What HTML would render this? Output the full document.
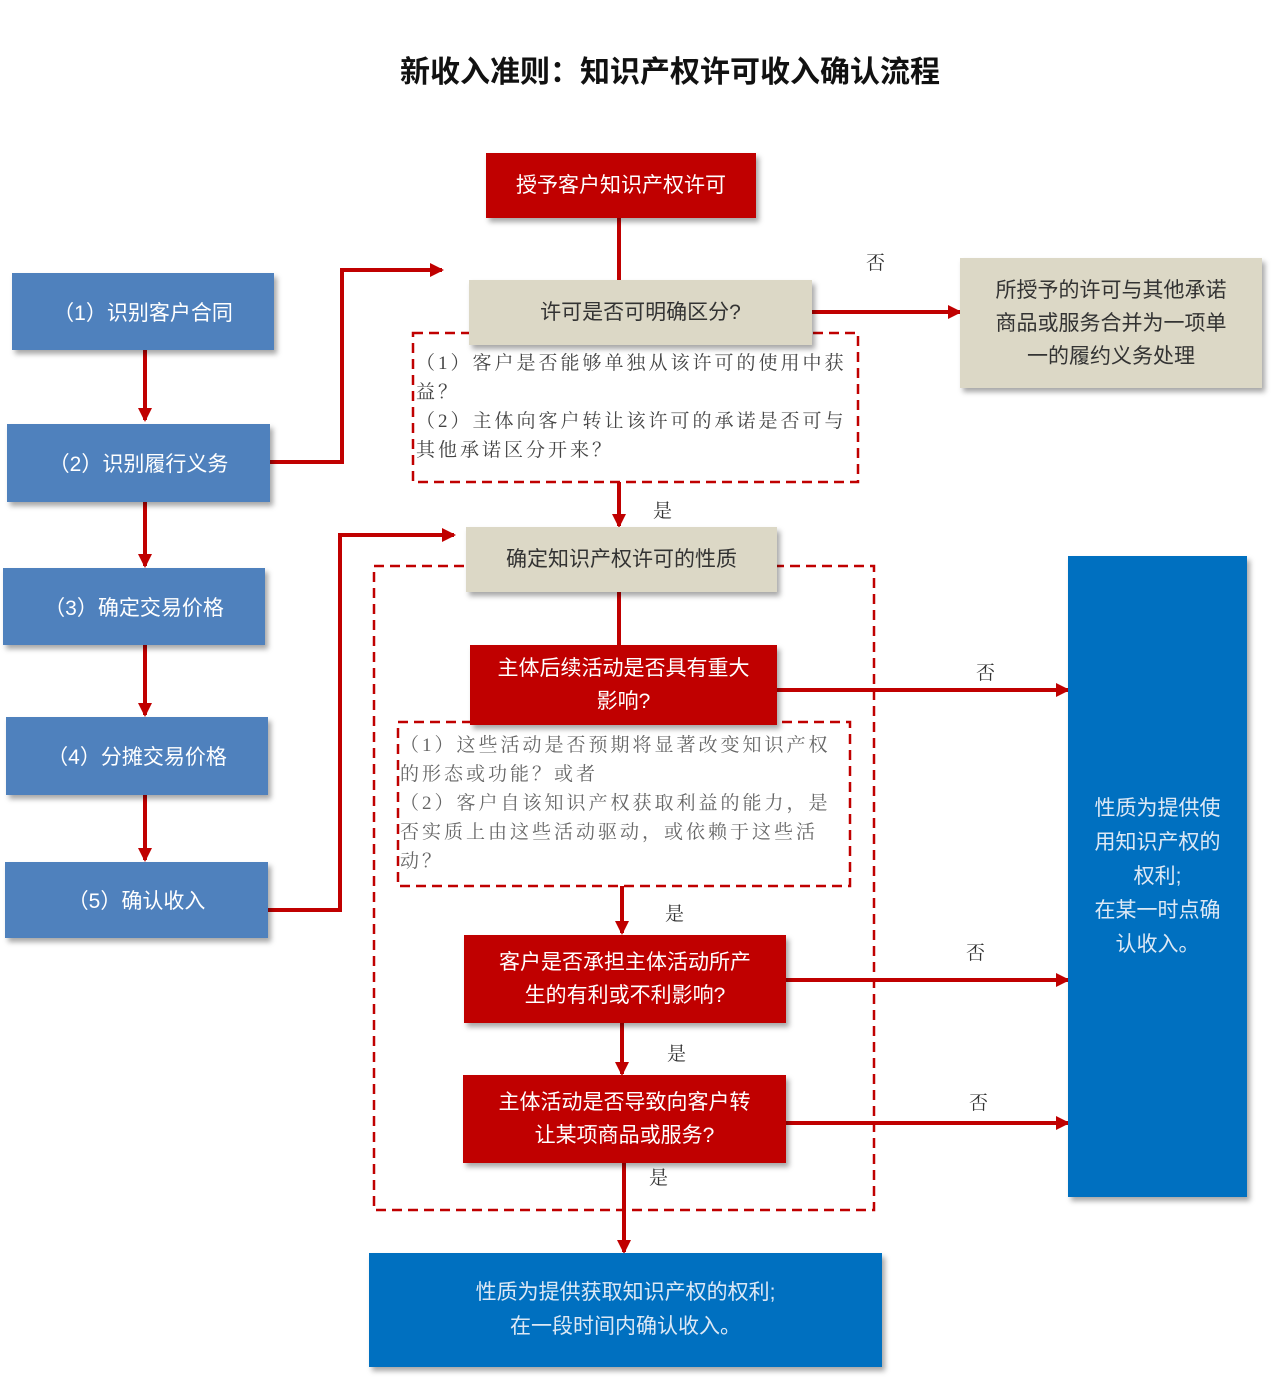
<!DOCTYPE html>
<html><head><meta charset="utf-8">
<style>
body{margin:0;width:1280px;height:1384px;background:#fff;position:relative;overflow:hidden;font-family:"Liberation Sans","Noto Sans CJK SC",sans-serif;}
.b{position:absolute;display:flex;align-items:center;justify-content:center;text-align:center;box-sizing:border-box;box-shadow:3px 4px 5px rgba(0,0,0,0.35);}
.blue{background:#4f81bd;color:#fff;font-size:21px;}
.red{background:#c00000;color:#fff;font-size:21px;line-height:33px;}
.gray{background:#dcd8c6;color:#333;font-size:21px;line-height:33px;}
.bb{background:#0070c0;color:#dce8f5;font-size:21px;line-height:34px;}
.t{position:absolute;font-family:"Liberation Serif","Noto Serif CJK SC",serif;color:#444;font-size:19px;line-height:29px;letter-spacing:3px;}
.l{position:absolute;font-size:19px;color:#333;font-family:"Liberation Serif","Noto Serif CJK SC",serif;}
</style></head><body>
<div style="position:absolute;left:0;width:1340px;top:47px;text-align:center;font-size:30px;font-weight:bold;color:#111;">新收入准则：知识产权许可收入确认流程</div>

<svg width="1280" height="1384" style="position:absolute;left:0;top:0">
<defs><marker id="a" markerWidth="14" markerHeight="14" refX="12" refY="7" orient="auto" markerUnits="userSpaceOnUse"><path d="M0,0 L14,7 L0,14 Z" fill="#c00000"/></marker></defs>
<g stroke="#c00000" stroke-width="4" fill="none">
<line x1="145" y1="350" x2="145" y2="420" marker-end="url(#a)"/>
<line x1="145" y1="502" x2="145" y2="566" marker-end="url(#a)"/>
<line x1="145" y1="645" x2="145" y2="715" marker-end="url(#a)"/>
<line x1="145" y1="795" x2="145" y2="860" marker-end="url(#a)"/>
<polyline points="270,462 342,462 342,270 442,270" marker-end="url(#a)"/>
<polyline points="268,910 340,910 340,535 454,535" marker-end="url(#a)"/>
<line x1="619" y1="218" x2="619" y2="280"/>
<line x1="812" y1="312" x2="960" y2="312" marker-end="url(#a)"/>
<line x1="619" y1="482" x2="619" y2="526" marker-end="url(#a)"/>
<line x1="619" y1="592" x2="619" y2="645"/>
<line x1="777" y1="690" x2="1068" y2="690" marker-end="url(#a)"/>
<line x1="622" y1="886" x2="622" y2="933" marker-end="url(#a)"/>
<line x1="786" y1="980" x2="1068" y2="980" marker-end="url(#a)"/>
<line x1="622" y1="1023" x2="622" y2="1074" marker-end="url(#a)"/>
<line x1="786" y1="1123" x2="1068" y2="1123" marker-end="url(#a)"/>
<line x1="624" y1="1163" x2="624" y2="1252" marker-end="url(#a)"/>
</g>
<g stroke="#c00000" stroke-width="2.5" fill="none" stroke-dasharray="10,6">
<rect x="413" y="333" width="445" height="149"/>
<rect x="374" y="566" width="500" height="644"/>
<rect x="398" y="722" width="452" height="164"/>
</g>
</svg>

<div class="b blue" style="left:12px;top:273px;width:262px;height:77px;">（1）识别客户合同</div>
<div class="b blue" style="left:7px;top:424px;width:263px;height:78px;">（2）识别履行义务</div>
<div class="b blue" style="left:3px;top:568px;width:262px;height:77px;">（3）确定交易价格</div>
<div class="b blue" style="left:6px;top:717px;width:262px;height:78px;">（4）分摊交易价格</div>
<div class="b blue" style="left:5px;top:862px;width:263px;height:76px;">（5）确认收入</div>

<div class="b red" style="left:486px;top:153px;width:270px;height:65px;">授予客户知识产权许可</div>
<div class="b gray" style="left:469px;top:280px;width:343px;height:65px;">许可是否可明确区分?</div>
<div class="b gray" style="left:960px;top:258px;width:302px;height:130px;padding:0 26px;">所授予的许可与其他承诺商品或服务合并为一项单一的履约义务处理</div>
<div class="t" style="left:416px;top:349px;width:440px;">（1）客户是否能够单独从该许可的使用中获益？<br>（2）主体向客户转让该许可的承诺是否可与其他承诺区分开来？</div>
<div class="b gray" style="left:466px;top:527px;width:311px;height:65px;">确定知识产权许可的性质</div>
<div class="b red" style="left:470px;top:645px;width:307px;height:80px;padding:0 24px;">主体后续活动是否具有重大影响?</div>
<div class="t" style="left:400px;top:731px;width:445px;color:#666;">（1）这些活动是否预期将显著改变知识产权的形态或功能？或者<br>（2）客户自该知识产权获取利益的能力，是否实质上由这些活动驱动，或依赖于这些活动？</div>
<div class="b red" style="left:464px;top:935px;width:322px;height:88px;padding:0 34px;">客户是否承担主体活动所产生的有利或不利影响?</div>
<div class="b red" style="left:463px;top:1075px;width:323px;height:88px;padding:0 28px;">主体活动是否导致向客户转让某项商品或服务?</div>
<div class="b bb" style="left:1068px;top:556px;width:179px;height:641px;padding:0 20px;">性质为提供使用知识产权的权利;<br>在某一时点确认收入。</div>
<div class="b bb" style="left:369px;top:1253px;width:513px;height:114px;">性质为提供获取知识产权的权利;<br>在一段时间内确认收入。</div>

<div class="l" style="left:866px;top:248px;">否</div>
<div class="l" style="left:653px;top:496px;">是</div>
<div class="l" style="left:976px;top:658px;">否</div>
<div class="l" style="left:665px;top:899px;">是</div>
<div class="l" style="left:966px;top:938px;">否</div>
<div class="l" style="left:667px;top:1039px;">是</div>
<div class="l" style="left:969px;top:1088px;">否</div>
<div class="l" style="left:649px;top:1163px;">是</div>
</body></html>
